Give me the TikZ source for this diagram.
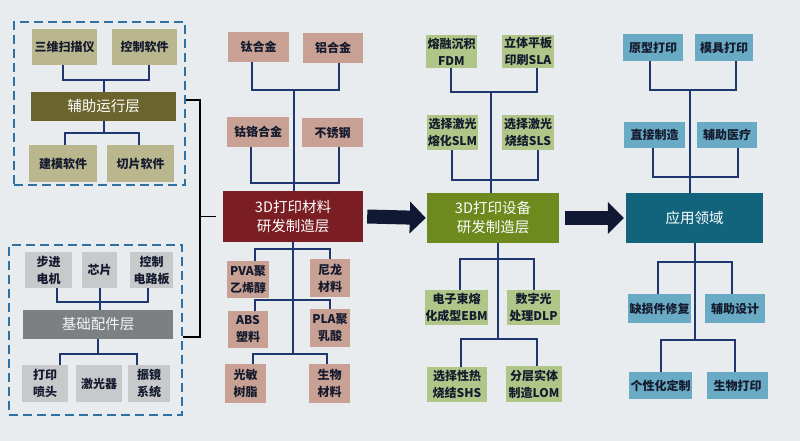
\documentclass[tikz,border=0pt]{standalone}
\usepackage{fontspec}
\newfontfamily\cjk{Noto Sans CJK SC}
\usetikzlibrary{arrows.meta}
\definecolor{bgc}{HTML}{E9ECEE}
\definecolor{olvl}{HTML}{BAB78E}
\definecolor{olvd}{HTML}{6B652D}
\definecolor{gryl}{HTML}{C7C9CB}
\definecolor{gryd}{HTML}{7D8083}
\definecolor{rosel}{HTML}{C8A094}
\definecolor{maroon}{HTML}{7A1E23}
\definecolor{grnl}{HTML}{B0C688}
\definecolor{grnd}{HTML}{6E8A1E}
\definecolor{bluel}{HTML}{69AAC4}
\definecolor{teal}{HTML}{12647D}
\definecolor{connc}{HTML}{1E376E}
\definecolor{navy}{HTML}{101834}
\definecolor{txtd}{HTML}{151B2E}
\definecolor{dashc}{HTML}{2E70A0}
\tikzset{
  bx/.style={inner sep=0pt, align=center, text=txtd, font=\cjk\bfseries\fontsize{12}{17}\selectfont},
  olv/.style={bx, fill=olvl},
  gry/.style={bx, fill=gryl},
  rse/.style={bx, fill=rosel},
  grn/.style={bx, fill=grnl},
  blu/.style={bx, fill=bluel},
  layer/.style={inner sep=0pt, align=center, text=white, font=\cjk\fontsize{14.5}{19}\selectfont},
  conn/.style={draw=connc, line width=2pt},
  brk/.style={draw=black, line width=1.8pt},
  dashbox/.style={draw=dashc, line width=2.4pt, dash pattern=on 9pt off 5pt},
  bigarrow/.style={draw=navy, line width=14pt, -{Triangle[length=16pt,width=31pt]}}
}
\begin{document}
\begin{tikzpicture}[x=1pt,y=-1pt]
\useasboundingbox (0,0) rectangle (800,441);
\fill[bgc] (0,0) rectangle (800,441);

% ---------- left top group ----------
\node[dashbox, minimum width=171pt, minimum height=163pt] (d1) at (99.5,103.5) {};
\node[olv, minimum width=65pt, minimum height=36pt] (sm) at (64.5,47) {三维扫描仪};
\node[olv, minimum width=65pt, minimum height=36pt] (kz) at (144.5,47) {控制软件};
\node[layer, fill=olvd, minimum width=145pt, minimum height=29pt] (fz) at (103.5,106.5) {辅助运行层};
\node[olv, minimum width=68pt, minimum height=37pt] (jm) at (63,163.5) {建模软件};
\node[olv, minimum width=67pt, minimum height=37pt] (qp) at (140.5,163.5) {切片软件};
\draw[conn] ([xshift=-2pt]sm.south) -- ([xshift=-2pt]sm.south |- 0,80) -| ([xshift=4pt]kz.south);
\draw[conn] (fz.north |- 0,80) -- (fz.north);
\draw[conn] (fz.south) -- (fz.south |- 0,133);
\draw[conn] ([xshift=2pt]jm.north) -- ([xshift=2pt]jm.north |- 0,133) -| ([xshift=-2pt]qp.north);

% ---------- left bottom group ----------
\node[dashbox, minimum width=173pt, minimum height=170pt] (d2) at (95.5,330) {};
\node[gry, minimum width=47pt, minimum height=36pt] (bj) at (48.5,270) {步进\\电机};
\node[gry, minimum width=35pt, minimum height=36pt] (xp) at (99.5,270) {芯片};
\node[gry, minimum width=43pt, minimum height=36pt] (kd) at (151.5,270) {控制\\电路板};
\node[layer, fill=gryd, text=white!92!gray, minimum width=150pt, minimum height=29pt] (jc) at (98,324.5) {基础配件层};
\node[gry, minimum width=46pt, minimum height=37pt] (dy) at (45,383.5) {打印\\喷头};
\node[gry, minimum width=46pt, minimum height=37pt] (jg) at (99,383.5) {激光器};
\node[gry, minimum width=42pt, minimum height=37pt] (zj) at (149,383.5) {振镜\\系统};
\draw[conn] ([xshift=8pt]bj.south) -- ([xshift=8pt]bj.south |- 0,302) -| ([xshift=-4pt]kd.south);
\draw[conn] (xp.south) -- (xp.south |- jc.north);
\draw[conn] (jc.south) -- (jc.south |- 0,354);
\draw[conn] ([xshift=15pt]dy.north) -- ([xshift=15pt]dy.north |- 0,354) -| ([xshift=-12pt]zj.north);

% ---------- materials column ----------
\node[rse, minimum width=61pt, minimum height=30pt] (tai) at (258.5,47) {钛合金};
\node[rse, minimum width=60pt, minimum height=30pt] (lv) at (333,48) {铝合金};
\node[rse, minimum width=62pt, minimum height=30pt] (gu) at (258,132) {钴铬合金};
\node[rse, minimum width=61pt, minimum height=29pt] (bxg) at (332.5,132.5) {不锈钢};
\node[layer, fill=maroon, minimum width=140pt, minimum height=51pt] (mat) at (293,216.5) {3D打印材料\\研发制造层};
\node[rse, minimum width=42pt, minimum height=37pt] (pva) at (248,279.5) {PVA聚\\乙烯醇};
\node[rse, minimum width=40pt, minimum height=38pt] (nl) at (330,278) {尼龙\\材料};
\node[rse, minimum width=40pt, minimum height=37pt] (abs) at (248,329.5) {ABS\\塑料};
\node[rse, minimum width=40pt, minimum height=38pt] (pla) at (330,328) {PLA聚\\乳酸};
\node[rse, minimum width=41pt, minimum height=39pt] (gm) at (245.5,383.5) {光敏\\树脂};
\node[rse, minimum width=41pt, minimum height=39pt] (swc) at (329.5,383.5) {生物\\材料};
\draw[conn] ([xshift=-7pt]tai.south) -- ([xshift=-7pt]tai.south |- 0,90) -| ([xshift=6pt]lv.south);
\draw[conn] ([xshift=1pt]mat.north |- 0,90) -- ([xshift=1pt]mat.north);
\draw[conn] ([xshift=-7pt]gu.south) -- ([xshift=-7pt]gu.south |- 0,183) -| ([xshift=6pt]bxg.south);
\draw[conn] (mat.south) -- (mat.south |- 0,354);
\draw[conn] ([xshift=7pt]pva.north) -- ([xshift=7pt]pva.north |- 0,249) -| (nl.north);
\draw[conn] ([xshift=7pt]abs.north) -- ([xshift=7pt]abs.north |- 0,300) -| (pla.north);
\draw[conn] ([xshift=7pt]gm.north) -- ([xshift=7pt]gm.north |- 0,354) -| ([xshift=-3pt]swc.north);

% ---------- devices column ----------
\node[grn, minimum width=51pt, minimum height=33pt] (fdm) at (451.5,51.5) {熔融沉积\\FDM};
\node[grn, minimum width=52pt, minimum height=33pt] (sla) at (528,51.5) {立体平板\\印刷SLA};
\node[grn, minimum width=51pt, minimum height=35pt] (slm) at (452.5,132.5) {选择激光\\熔化SLM};
\node[grn, minimum width=52pt, minimum height=35pt] (sls) at (528,132.5) {选择激光\\烧结SLS};
\node[layer, fill=grnd, minimum width=132pt, minimum height=50pt] (dev) at (493,218) {3D打印设备\\研发制造层};
\node[grn, minimum width=59pt, minimum height=35pt] (ebm) at (456.5,307.5) {电子束熔\\化成型EBM};
\node[grn, minimum width=53pt, minimum height=35pt] (dlp) at (533.5,307.5) {数字光\\处理DLP};
\node[grn, minimum width=60pt, minimum height=35pt] (shs) at (457,384.5) {选择性热\\烧结SHS};
\node[grn, minimum width=56pt, minimum height=36pt] (lom) at (534,384) {分层实体\\制造LOM};
\draw[conn] ([xshift=-1pt]fdm.south) -- ([xshift=-1pt]fdm.south |- 0,92) -| ([xshift=9pt]sla.south);
\draw[conn] ([xshift=-2pt]dev.north |- 0,92) -- ([xshift=-2pt]dev.north);
\draw[conn] ([xshift=-1pt]slm.south) -- ([xshift=-1pt]slm.south |- 0,180) -| ([xshift=10pt]sls.south);
\draw[conn] ([xshift=5pt]dev.south) -- ([xshift=5pt]dev.south |- 0,339);
\draw[conn] ([xshift=3.5pt]ebm.north) -- ([xshift=3.5pt]ebm.north |- 0,259) -| (dlp.north);
\draw[conn] ([xshift=4pt]shs.north) -- ([xshift=4pt]shs.north |- 0,339) -| ([xshift=3pt]lom.north);

% ---------- applications column ----------
\node[blu, minimum width=60pt, minimum height=27pt] (yx) at (653,47.5) {原型打印};
\node[blu, minimum width=58pt, minimum height=27pt] (mj) at (724,47.5) {模具打印};
\node[blu, minimum width=61pt, minimum height=26pt] (zz) at (654.5,135) {直接制造};
\node[blu, minimum width=60pt, minimum height=26pt] (fy) at (727,135) {辅助医疗};
\node[layer, fill=teal, minimum width=137pt, minimum height=50pt] (app) at (694.5,218) {应用领域};
\node[blu, minimum width=63pt, minimum height=29pt] (qs) at (659.5,308.5) {缺损件修复};
\node[blu, minimum width=60pt, minimum height=29pt] (fs) at (735,308.5) {辅助设计};
\node[blu, minimum width=63pt, minimum height=27pt] (gx) at (660.5,385.5) {个性化定制};
\node[blu, minimum width=61pt, minimum height=27pt] (swd) at (737.5,385.5) {生物打印};
\draw[conn] ([xshift=-3pt]yx.south) -- ([xshift=-3pt]yx.south |- 0,90) -| ([xshift=12pt]mj.south);
\draw[conn] ([xshift=-4.5pt]app.north |- 0,90) -- ([xshift=-4.5pt]app.north);
\draw[conn] ([xshift=-1.5pt]zz.south) -- ([xshift=-1.5pt]zz.south |- 0,177) -| ([xshift=11pt]fy.south);
\draw[conn] (app.south) -- (app.south |- 0,340);
\draw[conn] ([xshift=-1.5pt]qs.north) -- ([xshift=-1.5pt]qs.north |- 0,262) -| ([xshift=-3pt]fs.north);
\draw[conn] (gx.north) -- (gx.north |- 0,340) -| ([xshift=-2.5pt]swd.north);

% ---------- bracket ----------
\draw[brk] (d1.east |- 0,100) -- (200,100) -- (200,337) -- (d2.east |- 0,337);
\draw[brk] (mat.west -| 200,0) -- ([xshift=-7pt]mat.west);

% ---------- big arrows ----------
\draw[bigarrow] ([xshift=4pt]mat.east) -- ([xshift=-1pt]dev.west);
\draw[bigarrow] ([xshift=6pt]dev.east) -- ([xshift=-2pt]app.west);
\end{tikzpicture}
\end{document}
